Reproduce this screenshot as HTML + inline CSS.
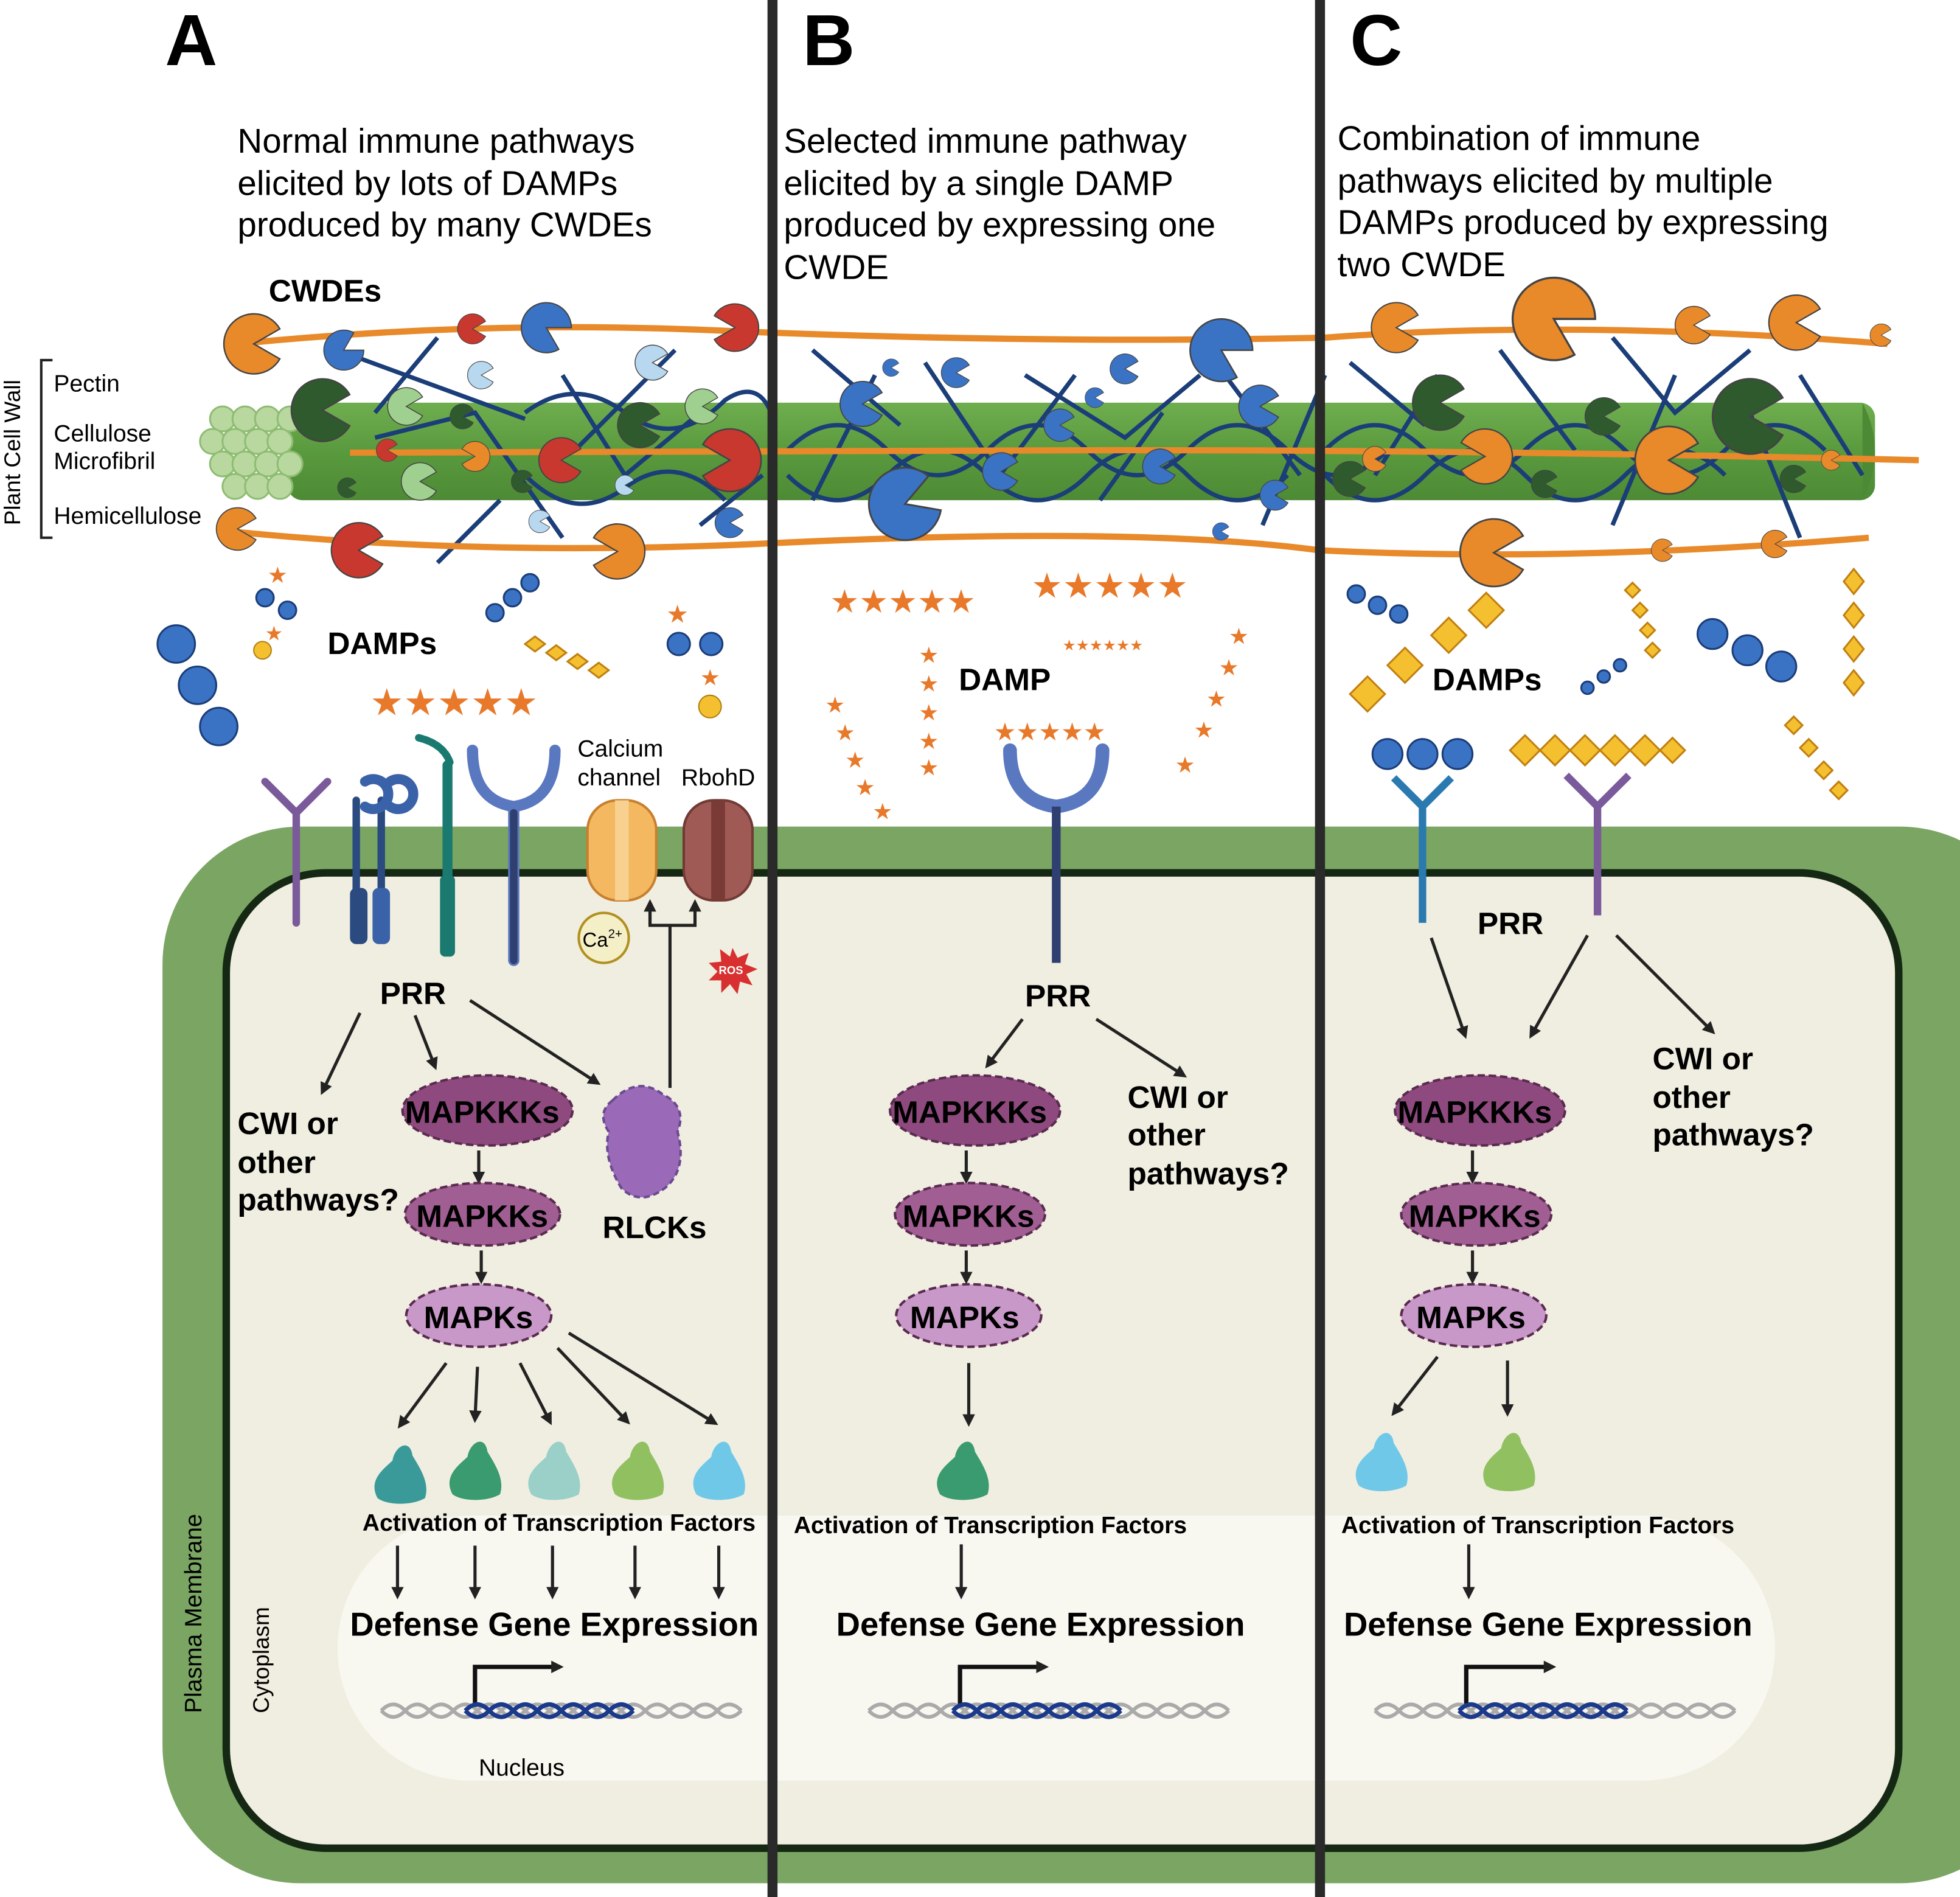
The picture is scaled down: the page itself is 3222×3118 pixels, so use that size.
<!DOCTYPE html>
<html><head><meta charset="utf-8"><style>
html,body{margin:0;padding:0;background:#fff}
svg{display:block}
text{font-family:"Liberation Sans",sans-serif}
.b{font-weight:bold}
</style></head><body>
<svg width="3222" height="3118" viewBox="0 0 1568 1517" preserveAspectRatio="none" xmlns="http://www.w3.org/2000/svg">
<defs>
<marker id="ar" markerWidth="10" markerHeight="10" refX="7" refY="5" orient="auto" markerUnits="userSpaceOnUse"><path d="M0,0 L10,5 L0,10 Z" fill="#222"/></marker>
<path id="pac" d="M0,0 L0.87,-0.5 A1,1 0 1 0 0.87,0.5 Z"/>
<linearGradient id="cyl" x1="0" y1="0" x2="0" y2="1"><stop offset="0" stop-color="#6fae4f"/><stop offset="0.5" stop-color="#5a9a3e"/><stop offset="1" stop-color="#4d8a35"/></linearGradient>
<g id="dna"><path d="M0,0 q10,-10 20,0 t20,0 t20,0 t20,0 t20,0 t20,0 t20,0 t20,0 t20,0 t20,0 t20,0 t20,0 t20,0 t20,0 t20,0" fill="none" stroke="#aaa" stroke-width="3"/><path d="M0,0 q10,10 20,0 t20,0 t20,0 t20,0 t20,0 t20,0 t20,0 t20,0 t20,0 t20,0 t20,0 t20,0 t20,0 t20,0 t20,0" fill="none" stroke="#aaa" stroke-width="3"/><path d="M70,0 q10,-10 20,0 t20,0 t20,0 t20,0 t20,0 t20,0 t20,0" fill="none" stroke="#1c3a8c" stroke-width="3.5"/><path d="M70,0 q10,10 20,0 t20,0 t20,0 t20,0 t20,0 t20,0 t20,0" fill="none" stroke="#1c3a8c" stroke-width="3.5"/></g>
<g id="tf"><path d="M-18,20 C-26,5 -12,-4 -6,-10 C-4,-22 8,-28 10,-14 C16,-4 24,8 20,20 C10,26 -10,26 -18,20Z"/></g>
</defs>

<!-- cell -->
<rect x="130" y="661" width="1500" height="845" rx="110" fill="#7aa563"/>
<rect x="181" y="698" width="1338" height="780" rx="80" fill="#f0eee0" stroke="#142814" stroke-width="6"/>
<rect x="270" y="1212" width="1150" height="212" rx="106" fill="#f8f7f0"/>

<!-- cell wall cylinder -->
<rect x="230" y="322" width="1270" height="78" rx="12" fill="url(#cyl)"/>
<path d="M1490,322 q20,39 0,78" fill="#4d8a35"/>
<g fill="#b8d8a0" stroke="#8fbc72" stroke-width="1.5">
<circle cx="178" cy="335" r="10"/><circle cx="196" cy="335" r="10"/><circle cx="214" cy="335" r="10"/><circle cx="232" cy="335" r="10"/>
<circle cx="170" cy="353" r="10"/><circle cx="188" cy="353" r="10"/><circle cx="206" cy="353" r="10"/><circle cx="224" cy="353" r="10"/>
<circle cx="178" cy="371" r="10"/><circle cx="196" cy="371" r="10"/><circle cx="214" cy="371" r="10"/><circle cx="232" cy="371" r="10"/>
<circle cx="188" cy="389" r="10"/><circle cx="206" cy="389" r="10"/><circle cx="224" cy="389" r="10"/>
</g>

<!-- hemicellulose blue lines -->
<g stroke="#1b3d78" stroke-width="3.5" fill="none">
<path d="M270,280 L420,335 M350,270 L300,330 M300,350 L380,330 L450,430 M400,400 L350,450 M450,300 L500,380 L560,330 M540,280 L460,360 M560,420 L610,380"/>
<path d="M420,330 q40,-30 80,0 q40,30 80,-10 q30,-20 40,20 M420,380 q40,40 80,10 q40,-30 80,10"/>
<path d="M650,280 L720,340 M700,300 L650,400 M740,290 L800,380 L860,300 M820,300 L900,350 L960,300 M880,400 L930,330 M980,300 L1040,380 M1010,420 L1060,300"/>
<path d="M630,360 q40,-40 80,0 q40,40 80,0 q40,-40 80,0 q40,40 80,0 q40,-40 80,0 q40,40 80,0"/>
<path d="M630,380 q40,40 80,0 q40,-40 80,0 q40,40 80,0 q40,-40 80,0 q40,40 80,0"/>
<path d="M1080,290 L1140,340 M1150,300 L1100,380 M1200,280 L1260,360 M1290,270 L1340,330 L1400,280 M1340,300 L1290,420 M1400,330 L1440,430 M1440,300 L1490,380"/>
<path d="M1060,360 q40,-40 80,0 q40,40 80,0 q40,-40 80,0 q40,40 80,0 q40,-40 80,0"/>
<path d="M1060,380 q40,40 80,0 q40,-40 80,0 q40,40 80,0 q40,-40 80,0"/>
</g>
<!-- orange pectin lines -->
<g stroke="#e8892a" stroke-width="5" fill="none">
<path d="M190,275 q200,-20 400,-10 q250,10 470,5 q200,-15 450,5"/>
<path d="M280,362 q300,0 620,-2 q300,0 635,8"/>
<path d="M185,425 q200,20 420,10 q300,-15 450,5 q200,10 440,-10"/>
</g>

<!-- pacmen -->
<g stroke="#444" stroke-width="0.05">
<use href="#pac" transform="translate(203,275) scale(24) rotate(0)" fill="#e8892a"/>
<use href="#pac" transform="translate(275,280) scale(16) rotate(-30)" fill="#3a72c4"/>
<use href="#pac" transform="translate(378,263) scale(12)" fill="#c8382e"/>
<use href="#pac" transform="translate(437,262) scale(20) rotate(30)" fill="#3a72c4"/>
<use href="#pac" transform="translate(588,262) scale(19) rotate(180)" fill="#c8382e"/>
<use href="#pac" transform="translate(385,300) scale(11)" fill="#b8d8f0"/>
<use href="#pac" transform="translate(522,290) scale(14)" fill="#b8d8f0"/>
<use href="#pac" transform="translate(258,328) scale(25)" fill="#2e5a2e"/>
<use href="#pac" transform="translate(325,325) scale(15)" fill="#a0d090"/>
<use href="#pac" transform="translate(370,333) scale(10)" fill="#2e5a2e"/>
<use href="#pac" transform="translate(512,340) scale(18)" fill="#2e5a2e"/>
<use href="#pac" transform="translate(562,325) scale(14)" fill="#a0d090"/>
<use href="#pac" transform="translate(584,368) scale(25) rotate(180)" fill="#c8382e"/>
<use href="#pac" transform="translate(449,368) scale(18)" fill="#c8382e"/>
<use href="#pac" transform="translate(380,365) scale(12) rotate(180)" fill="#e8892a"/>
<use href="#pac" transform="translate(310,360) scale(9)" fill="#c8382e"/>
<use href="#pac" transform="translate(336,385) scale(15)" fill="#a0d090"/>
<use href="#pac" transform="translate(278,390) scale(8)" fill="#2e5a2e"/>
<use href="#pac" transform="translate(418,385) scale(9)" fill="#2e5a2e"/>
<use href="#pac" transform="translate(190,423) scale(17)" fill="#e8892a"/>
<use href="#pac" transform="translate(287,440) scale(22)" fill="#c8382e"/>
<use href="#pac" transform="translate(494,441) scale(22) rotate(180)" fill="#e8892a"/>
<use href="#pac" transform="translate(584,418) scale(12)" fill="#3a72c4"/>
<use href="#pac" transform="translate(432,417) scale(9)" fill="#b8d8f0"/>
<use href="#pac" transform="translate(500,388) scale(8)" fill="#b8d8f0"/>
<!-- B -->
<use href="#pac" transform="translate(977,280) scale(25) rotate(30)" fill="#3a72c4"/>
<use href="#pac" transform="translate(690,323) scale(18)" fill="#3a72c4"/>
<use href="#pac" transform="translate(765,298) scale(12)" fill="#3a72c4"/>
<use href="#pac" transform="translate(713,294) scale(7)" fill="#3a72c4"/>
<use href="#pac" transform="translate(900,295) scale(12)" fill="#3a72c4"/>
<use href="#pac" transform="translate(1008,325) scale(17)" fill="#3a72c4"/>
<use href="#pac" transform="translate(848,340) scale(13)" fill="#3a72c4"/>
<use href="#pac" transform="translate(801,377) scale(15)" fill="#3a72c4"/>
<use href="#pac" transform="translate(928,373) scale(14)" fill="#3a72c4"/>
<use href="#pac" transform="translate(724,403) scale(29) rotate(-20)" fill="#3a72c4"/>
<use href="#pac" transform="translate(1020,396) scale(12)" fill="#3a72c4"/>
<use href="#pac" transform="translate(876,318) scale(8)" fill="#3a72c4"/>
<use href="#pac" transform="translate(977,425) scale(7)" fill="#3a72c4"/>
<!-- C -->
<use href="#pac" transform="translate(1117,262) scale(20)" fill="#e8892a"/>
<use href="#pac" transform="translate(1243,255) scale(33) rotate(30)" fill="#e8892a"/>
<use href="#pac" transform="translate(1355,260) scale(15)" fill="#e8892a"/>
<use href="#pac" transform="translate(1437,258) scale(22)" fill="#e8892a"/>
<use href="#pac" transform="translate(1505,268) scale(9)" fill="#e8892a"/>
<use href="#pac" transform="translate(1152,322) scale(22)" fill="#2e5a2e"/>
<use href="#pac" transform="translate(1283,333) scale(15)" fill="#2e5a2e"/>
<use href="#pac" transform="translate(1400,333) scale(30)" fill="#2e5a2e"/>
<use href="#pac" transform="translate(1080,383) scale(14)" fill="#2e5a2e"/>
<use href="#pac" transform="translate(1100,367) scale(10)" fill="#e8892a"/>
<use href="#pac" transform="translate(1188,365) scale(22) rotate(180)" fill="#e8892a"/>
<use href="#pac" transform="translate(1335,368) scale(27)" fill="#e8892a"/>
<use href="#pac" transform="translate(1236,387) scale(11)" fill="#2e5a2e"/>
<use href="#pac" transform="translate(1435,383) scale(11)" fill="#2e5a2e"/>
<use href="#pac" transform="translate(1465,368) scale(8)" fill="#e8892a"/>
<use href="#pac" transform="translate(1195,442) scale(27)" fill="#e8892a"/>
<use href="#pac" transform="translate(1330,440) scale(9)" fill="#e8892a"/>
<use href="#pac" transform="translate(1420,435) scale(11)" fill="#e8892a"/>
</g>

<!-- dividers -->
<rect x="614" y="0" width="8" height="1517" fill="#2a2a2a"/>
<rect x="1052" y="0" width="8" height="1517" fill="#2a2a2a"/>

<!-- letters & titles -->
<text x="132" y="52" font-size="58" class="b">A</text>
<text x="642" y="52" font-size="58" class="b">B</text>
<text x="1080" y="52" font-size="58" class="b">C</text>
<g font-size="27.5">
<text x="190" y="122">Normal immune pathways</text>
<text x="190" y="156">elicited by lots of DAMPs</text>
<text x="190" y="189">produced by many CWDEs</text>
<text x="627" y="122">Selected immune pathway</text>
<text x="627" y="156">elicited by a single DAMP</text>
<text x="627" y="189">produced by expressing one</text>
<text x="627" y="223">CWDE</text>
<text x="1070" y="120">Combination of immune</text>
<text x="1070" y="154">pathways elicited by multiple</text>
<text x="1070" y="187">DAMPs produced by expressing</text>
<text x="1070" y="221">two CWDE</text>
</g>
<text x="215" y="241" font-size="25" class="b">CWDEs</text>

<!-- bracket -->
<path d="M42,288 H33 V430 H42" stroke="#222" stroke-width="2" fill="none"/>
<text transform="translate(16,420) rotate(-90)" font-size="18">Plant Cell Wall</text>
<g font-size="19"><text x="43" y="313">Pectin</text><text x="43" y="353">Cellulose</text><text x="43" y="375">Microfibril</text><text x="43" y="419">Hemicellulose</text></g>

<!-- DAMPs A -->
<text x="262" y="523" font-size="25" class="b">DAMPs</text>
<g fill="#3a72c4" stroke="#1b3d78" stroke-width="1.5">
<circle cx="141" cy="515" r="15"/><circle cx="158" cy="548" r="15"/><circle cx="175" cy="581" r="15"/>
<circle cx="212" cy="478" r="7"/><circle cx="230" cy="488" r="7"/><circle cx="396" cy="490" r="7"/><circle cx="410" cy="478" r="7"/><circle cx="424" cy="466" r="7"/>
<circle cx="543" cy="515" r="9"/><circle cx="569" cy="515" r="9"/>
<circle cx="1085" cy="475" r="7"/><circle cx="1102" cy="484" r="7"/><circle cx="1119" cy="491" r="7"/>
<circle cx="1370" cy="507" r="12"/><circle cx="1398" cy="520" r="12"/><circle cx="1425" cy="533" r="12"/>
<circle cx="1270" cy="550" r="5"/><circle cx="1283" cy="541" r="5"/><circle cx="1296" cy="532" r="5"/>
<circle cx="1110" cy="603" r="12"/><circle cx="1138" cy="603" r="12"/><circle cx="1166" cy="603" r="12"/>
</g>
<circle cx="210" cy="520" r="7" fill="#f5c030" stroke="#b08010"/><circle cx="568" cy="565" r="9" fill="#f5c030" stroke="#b08010"/>
<g>
<text x="296" y="572" font-size="30" fill="#e8792a">★★★★★</text>
<text x="664" y="490" font-size="26" fill="#e8792a">★★★★★</text>
<text x="825" y="478" font-size="28" fill="#e8792a">★★★★★</text>
<text x="795" y="592" font-size="20" fill="#e8792a">★★★★★</text>
<text x="214" y="466" font-size="18" fill="#e8792a">★</text><text x="212" y="512" font-size="16" fill="#e8792a">★</text>
<text x="533" y="498" font-size="20" fill="#e8792a">★</text><text x="560" y="548" font-size="18" fill="#e8792a">★</text>
<text x="850" y="520" font-size="12" fill="#e8792a">★★★★★★</text>
</g>
<g fill="#e8792a" font-size="18">
<text x="735" y="530">★</text><text x="735" y="553">★</text><text x="735" y="576">★</text><text x="735" y="599">★</text><text x="735" y="620">★</text>
<text x="660" y="570">★</text><text x="668" y="592">★</text><text x="676" y="614">★</text><text x="684" y="636">★</text><text x="698" y="655">★</text>
<text x="983" y="515">★</text><text x="975" y="540">★</text><text x="965" y="565">★</text><text x="955" y="590">★</text><text x="940" y="618">★</text>
</g>
<!-- yellow diamonds -->
<g fill="#f5c030" stroke="#c08010" stroke-width="1.5">
<path d="M1208,600 l12,-12 l12,12 l-12,12Z M1232,600 l12,-12 l12,12 l-12,12Z M1256,600 l12,-12 l12,12 l-12,12Z M1280,600 l12,-12 l12,12 l-12,12Z M1304,600 l12,-12 l12,12 l-12,12Z M1328,600 l10,-10 l10,10 l-10,10Z"/>
<path d="M1080,555 l14,-14 l14,14 l-14,14Z M1110,532 l14,-14 l14,14 l-14,14Z M1145,508 l14,-14 l14,14 l-14,14Z M1175,488 l14,-14 l14,14 l-14,14Z"/>
<path d="M1475,465 l8,-10 l8,10 l-8,10Z M1475,492 l8,-10 l8,10 l-8,10Z M1475,519 l8,-10 l8,10 l-8,10Z M1475,546 l8,-10 l8,10 l-8,10Z"/>
<path d="M420,515 l8,-6 l8,6 l-8,6Z M437,522 l8,-6 l8,6 l-8,6Z M454,529 l8,-6 l8,6 l-8,6Z M471,536 l8,-6 l8,6 l-8,6Z"/>
<path d="M1428,580 l7,-7 l7,7 l-7,7Z M1440,598 l7,-7 l7,7 l-7,7Z M1452,616 l7,-7 l7,7 l-7,7Z M1464,632 l7,-7 l7,7 l-7,7Z"/>
<path d="M1300,472 l6,-6 l6,6 l-6,6Z M1306,488 l6,-6 l6,6 l-6,6Z M1312,504 l6,-6 l6,6 l-6,6Z M1316,520 l6,-6 l6,6 l-6,6Z"/>
</g>
<text x="767" y="552" font-size="25" class="b">DAMP</text>
<text x="1146" y="552" font-size="25" class="b">DAMPs</text>

<!-- receptors A -->
<g fill="none" stroke-linecap="round">
<path d="M212,625 L237,650 L262,625 M237,650 V738" stroke="#7a5a9a" stroke-width="6"/>
<path d="M285,640 V735 M305,640 V735" stroke="#2a4a80" stroke-width="6"/>
<path d="M292,625 a12,12 0 1 1 0,20 M312,625 a12,12 0 1 1 0,20" stroke="#3a62a8" stroke-width="8"/>
<path d="M358,612 V735" stroke="#1a7a70" stroke-width="8"/>
<path d="M335,590 q20,5 25,20" stroke="#1a7a70" stroke-width="6" stroke-dasharray="3,2"/>
<path d="M378,600 q0,40 33,45 q33,-5 33,-45 M411,645 V768" stroke="#5a78c0" stroke-width="9"/>
<path d="M411,650 V768" stroke="#2f3f70" stroke-width="6"/>
</g>
<rect x="280" y="710" width="14" height="45" rx="5" fill="#2a4a80"/><rect x="298" y="710" width="14" height="45" rx="5" fill="#3a62a8"/>
<rect x="352" y="700" width="12" height="65" rx="4" fill="#1a7a70"/>
<!-- channels -->
<rect x="470" y="640" width="55" height="80" rx="24" fill="#f4b860" stroke="#c88030" stroke-width="2"/>
<rect x="492" y="640" width="11" height="80" fill="#f8d090"/>
<rect x="547" y="640" width="55" height="80" rx="24" fill="#a05a55" stroke="#703a35" stroke-width="2"/>
<rect x="569" y="640" width="11" height="80" fill="#7a3a35"/>
<text x="462" y="605" font-size="19">Calcium</text><text x="462" y="628" font-size="19">channel</text><text x="545" y="628" font-size="19">RbohD</text>
<circle cx="483" cy="750" r="20" fill="#f5efc8" stroke="#b09020" stroke-width="2"/>
<text x="466" y="757" font-size="16">Ca<tspan font-size="10" dy="-7">2+</tspan></text>
<path d="M586,758 l4,8 l9,-4 l-3,9 l10,4 l-9,4 l5,9 l-10,-3 l-2,10 l-6,-8 l-7,7 l0,-10 l-10,0 l7,-7 l-7,-7 l10,-1 l-1,-10 l8,6Z" fill="#d83030"/>
<text x="575" y="779" font-size="9" fill="#fff" class="b">ROS</text>
<path d="M536,870 V740 H520 V722 M536,740 H556 V722" stroke="#222" stroke-width="2.5" fill="none" marker-end="url(#ar)"/>
<path d="M520,740 V722" stroke="#222" stroke-width="2.5" marker-end="url(#ar)"/>

<!-- receptor B -->
<path d="M808,600 q0,40 37,45 q37,-5 37,-45" stroke="#5a78c0" stroke-width="11" fill="none" stroke-linecap="round"/>
<path d="M845,645 V770" stroke="#2f3f70" stroke-width="7"/>
<!-- receptors C -->
<path d="M1115,622 L1138,645 L1161,622 M1138,645 V738" stroke="#2a7ab0" stroke-width="6" fill="none"/>
<path d="M1253,620 L1278,645 L1303,620 M1278,645 V732" stroke="#7a5a9a" stroke-width="6" fill="none"/>

<!-- labels -->
<g class="b" font-size="25">
<text x="304" y="803">PRR</text><text x="820" y="805">PRR</text><text x="1182" y="747">PRR</text>
<text x="190" y="907">CWI or</text><text x="190" y="938">other</text><text x="190" y="968">pathways?</text>
<text x="902" y="886">CWI or</text><text x="902" y="916">other</text><text x="902" y="947">pathways?</text>
<text x="1322" y="855">CWI or</text><text x="1322" y="886">other</text><text x="1322" y="916">pathways?</text>
<text x="482" y="990">RLCKs</text>
</g>

<!-- arrows -->
<g stroke="#222" stroke-width="2.5" marker-end="url(#ar)">
<line x1="288" y1="810" x2="258" y2="873"/><line x1="332" y1="812" x2="348" y2="853"/><line x1="376" y1="800" x2="478" y2="866"/>
<line x1="383" y1="920" x2="383" y2="944"/><line x1="385" y1="1000" x2="385" y2="1024"/>
<line x1="357" y1="1090" x2="320" y2="1140"/><line x1="382" y1="1093" x2="380" y2="1135"/><line x1="416" y1="1090" x2="440" y2="1137"/><line x1="446" y1="1078" x2="502" y2="1137"/><line x1="455" y1="1066" x2="572" y2="1138"/>
<line x1="318" y1="1236" x2="318" y2="1276"/><line x1="380" y1="1236" x2="380" y2="1276"/><line x1="442" y1="1236" x2="442" y2="1276"/><line x1="508" y1="1236" x2="508" y2="1276"/><line x1="575" y1="1236" x2="575" y2="1276"/>
<line x1="818" y1="815" x2="790" y2="852"/><line x1="877" y1="815" x2="947" y2="860"/>
<line x1="773" y1="920" x2="773" y2="944"/><line x1="773" y1="1000" x2="773" y2="1024"/><line x1="775" y1="1090" x2="775" y2="1138"/>
<line x1="769" y1="1235" x2="769" y2="1276"/>
<line x1="1145" y1="750" x2="1172" y2="828"/><line x1="1270" y1="748" x2="1225" y2="828"/><line x1="1293" y1="748" x2="1370" y2="825"/>
<line x1="1178" y1="920" x2="1178" y2="944"/><line x1="1178" y1="1000" x2="1178" y2="1024"/>
<line x1="1150" y1="1085" x2="1115" y2="1130"/><line x1="1206" y1="1088" x2="1206" y2="1130"/>
<line x1="1175" y1="1235" x2="1175" y2="1276"/>
</g>

<!-- kinase blobs -->
<g stroke="#5a2a50" stroke-width="2" stroke-dasharray="6,3">
<ellipse cx="390" cy="888" rx="68" ry="28" fill="#8e4a7e"/>
<ellipse cx="386" cy="971" rx="62" ry="25" fill="#a05e92"/>
<ellipse cx="383" cy="1052" rx="58" ry="25" fill="#c898c8"/>
<ellipse cx="780" cy="888" rx="68" ry="28" fill="#8e4a7e"/>
<ellipse cx="776" cy="971" rx="60" ry="25" fill="#a05e92"/>
<ellipse cx="775" cy="1052" rx="58" ry="25" fill="#c898c8"/>
<ellipse cx="1184" cy="888" rx="68" ry="28" fill="#8e4a7e"/>
<ellipse cx="1181" cy="971" rx="60" ry="25" fill="#a05e92"/>
<ellipse cx="1179" cy="1052" rx="58" ry="25" fill="#c898c8"/>
</g>
<path d="M490,880 q20,-20 40,-5 q20,10 12,30 q8,30 -10,45 q-20,15 -35,0 q-15,-25 -10,-45 q-10,-15 3,-25Z" fill="#9a6ab8" stroke="#6a4a90" stroke-width="2" stroke-dasharray="5,3"/>
<g class="b" font-size="25">
<text x="324" y="898">MAPKKKs</text><text x="333" y="981">MAPKKs</text><text x="339" y="1062">MAPKs</text>
<text x="714" y="898">MAPKKKs</text><text x="722" y="981">MAPKKs</text><text x="728" y="1062">MAPKs</text>
<text x="1118" y="898">MAPKKKs</text><text x="1127" y="981">MAPKKs</text><text x="1133" y="1062">MAPKs</text>
</g>

<!-- TFs -->
<use href="#tf" transform="translate(320,1178)" fill="#3a9a9a"/>
<use href="#tf" transform="translate(380,1175)" fill="#3a9a70"/>
<use href="#tf" transform="translate(443,1175)" fill="#9ad0c8"/>
<use href="#tf" transform="translate(510,1175)" fill="#90c060"/>
<use href="#tf" transform="translate(575,1175)" fill="#70c8e8"/>
<use href="#tf" transform="translate(770,1175)" fill="#3a9a70"/>
<use href="#tf" transform="translate(1105,1168)" fill="#70c8e8"/>
<use href="#tf" transform="translate(1207,1168)" fill="#90c060"/>

<g class="b" font-size="19">
<text x="290" y="1224">Activation of Transcription Factors</text>
<text x="635" y="1226">Activation of Transcription Factors</text>
<text x="1073" y="1226">Activation of Transcription Factors</text>
</g>
<g class="b" font-size="26.5">
<text x="280" y="1308">Defense Gene Expression</text>
<text x="669" y="1308">Defense Gene Expression</text>
<text x="1075" y="1308">Defense Gene Expression</text>
</g>
<g stroke="#111" stroke-width="3.5" fill="none" marker-end="url(#ar)">
<path d="M380,1365 V1333 H448"/><path d="M768,1365 V1333 H836"/><path d="M1173,1365 V1333 H1242"/>
</g>
<use href="#dna" transform="translate(305,1368) scale(0.96,1)"/>
<use href="#dna" transform="translate(695,1368) scale(0.96,1)"/>
<use href="#dna" transform="translate(1100,1368) scale(0.96,1)"/>
<text x="383" y="1420" font-size="19">Nucleus</text>
<text transform="translate(161,1370) rotate(-90)" font-size="19">Plasma Membrane</text>
<text transform="translate(215,1370) rotate(-90)" font-size="18">Cytoplasm</text>
</svg>
</body></html>
